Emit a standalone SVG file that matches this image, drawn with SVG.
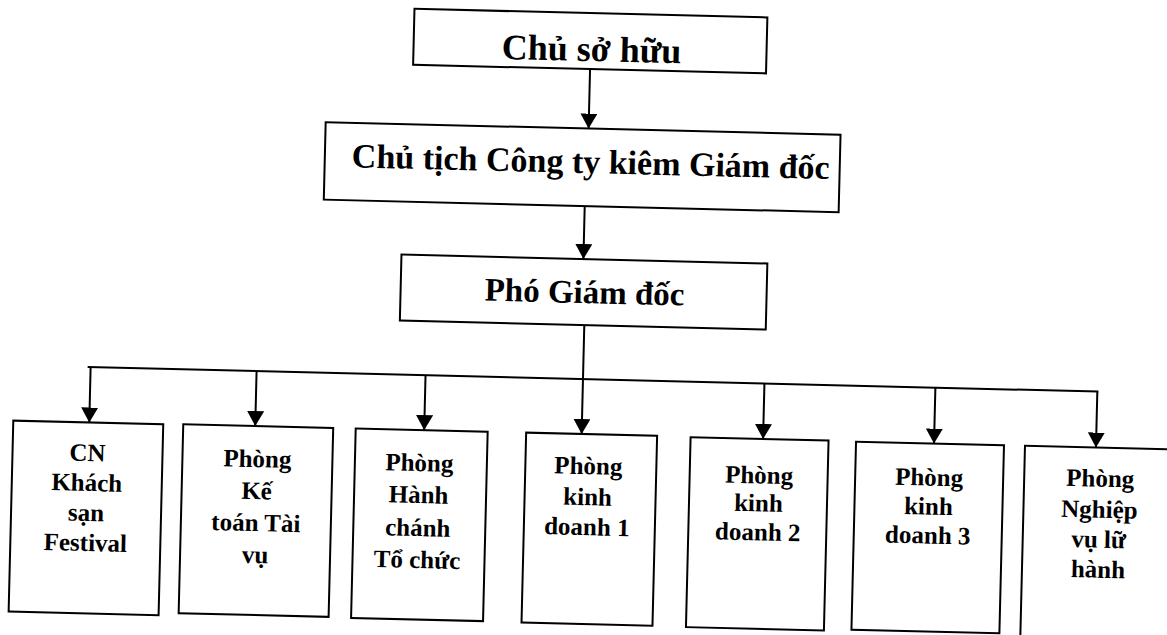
<svg xmlns="http://www.w3.org/2000/svg" width="1167" height="635" viewBox="0 0 1167 635">
<style>
.box{fill:#fff;stroke:#000;stroke-width:2}
.t{font-family:"Liberation Serif","Times New Roman",serif;font-weight:bold;text-anchor:middle;fill:#000}
.big{font-size:34px}
.sm{font-size:25px}
.conn line{stroke:#000;stroke-width:2}
</style>
<defs>
<marker id="ah" viewBox="0 0 15 17" refX="15" refY="8.5" markerWidth="15" markerHeight="17" markerUnits="userSpaceOnUse" orient="auto">
<path d="M0,0 L15,8.5 L0,17 z" fill="#000"/>
</marker>
</defs>
<rect width="1167" height="635" fill="#fff"/>
<g transform="rotate(1.4 583 317)">
<g class="conn">
<line x1="584" y1="69" x2="584" y2="128.5" marker-end="url(#ah)"/>
<line x1="582" y1="206" x2="582" y2="259" marker-end="url(#ah)"/>
<line x1="584.5" y1="325" x2="584.5" y2="434" marker-end="url(#ah)"/>
<line x1="89" y1="379" x2="1100" y2="379"/>
<line x1="92" y1="379" x2="92" y2="434.5" marker-end="url(#ah)"/>
<line x1="258" y1="379" x2="258" y2="434" marker-end="url(#ah)"/>
<line x1="427" y1="379" x2="427" y2="434" marker-end="url(#ah)"/>
<line x1="766" y1="379" x2="766" y2="434.5" marker-end="url(#ah)"/>
<line x1="937" y1="379" x2="937" y2="435" marker-end="url(#ah)"/>
<line x1="1099" y1="379" x2="1099" y2="435" marker-end="url(#ah)"/>
</g>
<g id="n-chu-so-huu">
<rect class="box" x="407" y="13" width="353" height="56"/>
<text class="t" x="585" y="61" style="font-size:36px">Chủ sở hữu</text>
</g>
<g id="n-chu-tich">
<rect class="box" x="321" y="128.5" width="515" height="77.5"/>
<text class="t big" x="587" y="173">Chủ tịch Công ty kiêm Giám đốc</text>
</g>
<g id="n-pho-giam-doc">
<rect class="box" x="400" y="259" width="366" height="66"/>
<text class="t" x="584" y="303" style="font-size:33px">Phó Giám đốc</text>
</g>
<g id="n-khach-san">
<rect class="box" x="16" y="434.5" width="150" height="191"/>
<text class="t sm" x="91"><tspan x="91" y="473">CN</tspan><tspan x="91" y="503">Khách</tspan><tspan x="91" y="533">sạn</tspan><tspan x="91" y="563">Festival</tspan></text>
</g>
<g id="n-ke-toan">
<rect class="box" x="186" y="434" width="150" height="189"/>
<text class="t sm" x="261"><tspan x="261" y="475">Phòng</tspan><tspan x="261" y="507">Kế</tspan><tspan x="261" y="539">toán Tài</tspan><tspan x="261" y="571">vụ</tspan></text>
</g>
<g id="n-hanh-chanh">
<rect class="box" x="358.5" y="434" width="132" height="189.5"/>
<text class="t sm" x="423"><tspan x="423" y="475">Phòng</tspan><tspan x="423" y="507">Hành</tspan><tspan x="423" y="540">chánh</tspan><tspan x="423" y="572">Tổ chức</tspan></text>
</g>
<g id="n-kd1">
<rect class="box" x="529" y="434" width="131" height="190"/>
<text class="t sm" x="592"><tspan x="592" y="474">Phòng</tspan><tspan x="592" y="505">kinh</tspan><tspan x="592" y="535">doanh 1</tspan></text>
</g>
<g id="n-kd2">
<rect class="box" x="693.5" y="434.5" width="138" height="190"/>
<text class="t sm" x="763"><tspan x="763" y="479">Phòng</tspan><tspan x="763" y="507">kinh</tspan><tspan x="763" y="536">doanh 2</tspan></text>
</g>
<g id="n-kd3">
<rect class="box" x="859" y="435" width="148" height="188"/>
<text class="t sm" x="933"><tspan x="933" y="477">Phòng</tspan><tspan x="933" y="506">kinh</tspan><tspan x="933" y="535">doanh 3</tspan></text>
</g>
<g id="n-lu-hanh">
<rect class="box" x="1028" y="435" width="160" height="195"/>
<text class="t sm" x="1104"><tspan x="1104" y="474">Phòng</tspan><tspan x="1104" y="505">Nghiệp</tspan><tspan x="1104" y="535">vụ lữ</tspan><tspan x="1104" y="565">hành</tspan></text>
</g>
</g>
</svg>
